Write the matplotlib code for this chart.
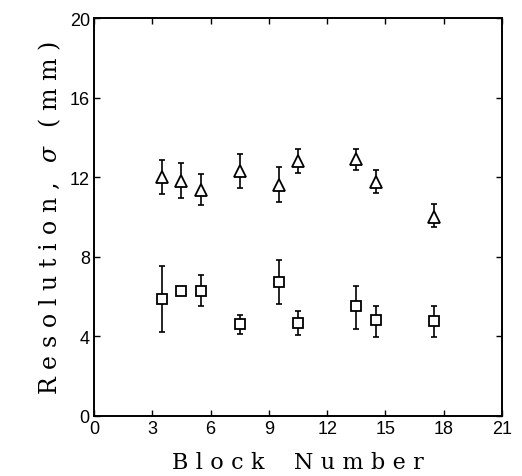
import numpy as np
import matplotlib.pyplot as plt

plt.rcParams["mathtext.fontset"] = "dejavuserif"

# block numbers
blocks = [3.5, 4.5, 5.5, 7.5, 9.5, 10.5, 13.5, 14.5, 17.5]

# triangles (upper series)
tri_y = [12.0, 11.8, 11.35, 12.3, 11.6, 12.8, 12.9, 11.75, 10.0]
tri_lo = [11.15, 10.95, 10.6, 11.45, 10.75, 12.2, 12.35, 11.2, 9.5]
tri_hi = [12.85, 12.7, 12.15, 13.15, 12.5, 13.4, 13.4, 12.35, 10.65]

# squares (lower series)
sq_y = [5.9, 6.3, 6.3, 4.6, 6.75, 4.65, 5.5, 4.8, 4.75]
sq_lo = [4.2, 6.3, 5.5, 4.1, 5.65, 4.05, 4.35, 3.95, 3.95]
sq_hi = [7.55, 6.3, 7.1, 5.05, 7.85, 5.25, 6.55, 5.55, 5.55]

GAP = "\u2004"  # three-per-em space
EN = "\u2002"


def spaced(word):
    # wide letter spacing like the old typeset labels
    return GAP.join(word)


def yerr(y, lo, hi):
    y = np.array(y)
    return [y - np.array(lo), np.array(hi) - y]


fig = plt.figure(figsize=(5.22, 4.77), dpi=100)
ax = fig.add_axes([0.18, 0.126, 0.7817, 0.834])

err_kw = dict(fmt="none", ecolor="black", elinewidth=1.2, capsize=2.2, capthick=1.2)
ax.errorbar(blocks, tri_y, yerr=yerr(tri_y, tri_lo, tri_hi), **err_kw)
ax.errorbar(blocks, sq_y, yerr=yerr(sq_y, sq_lo, sq_hi), **err_kw)
ax.plot(blocks, tri_y, ls="none", marker="^", ms=8, mfc="white", mec="black", mew=1.3, zorder=3)
ax.plot(blocks, sq_y, ls="none", marker="s", ms=6.5, mfc="white", mec="black", mew=1.3, zorder=3)

ax.set_xlim(0, 21)
ax.set_ylim(0, 20)
ax.set_xticks(np.arange(0, 22, 3))
ax.set_yticks(np.arange(0, 21, 4))
ax.tick_params(direction="in", length=4, width=1, top=True, right=True,
               labelsize=13, pad=3)
for lab in ax.get_xticklabels() + ax.get_yticklabels():
    lab.set_family("Liberation Sans")
for s in ax.spines.values():
    s.set_linewidth(1.4)

xlab = spaced("Block") + EN + " " + EN + spaced("Number")
ylab = (spaced("Resolution,") + " " + EN + "$\\sigma$" + EN + " "
        + spaced("(mm)"))
ax.set_xlabel(xlab, family="DejaVu Serif", fontsize=16, labelpad=10)
ax.set_ylabel(ylab, family="DejaVu Serif", fontsize=17, labelpad=5)

fig.savefig("out.png", dpi=100)
